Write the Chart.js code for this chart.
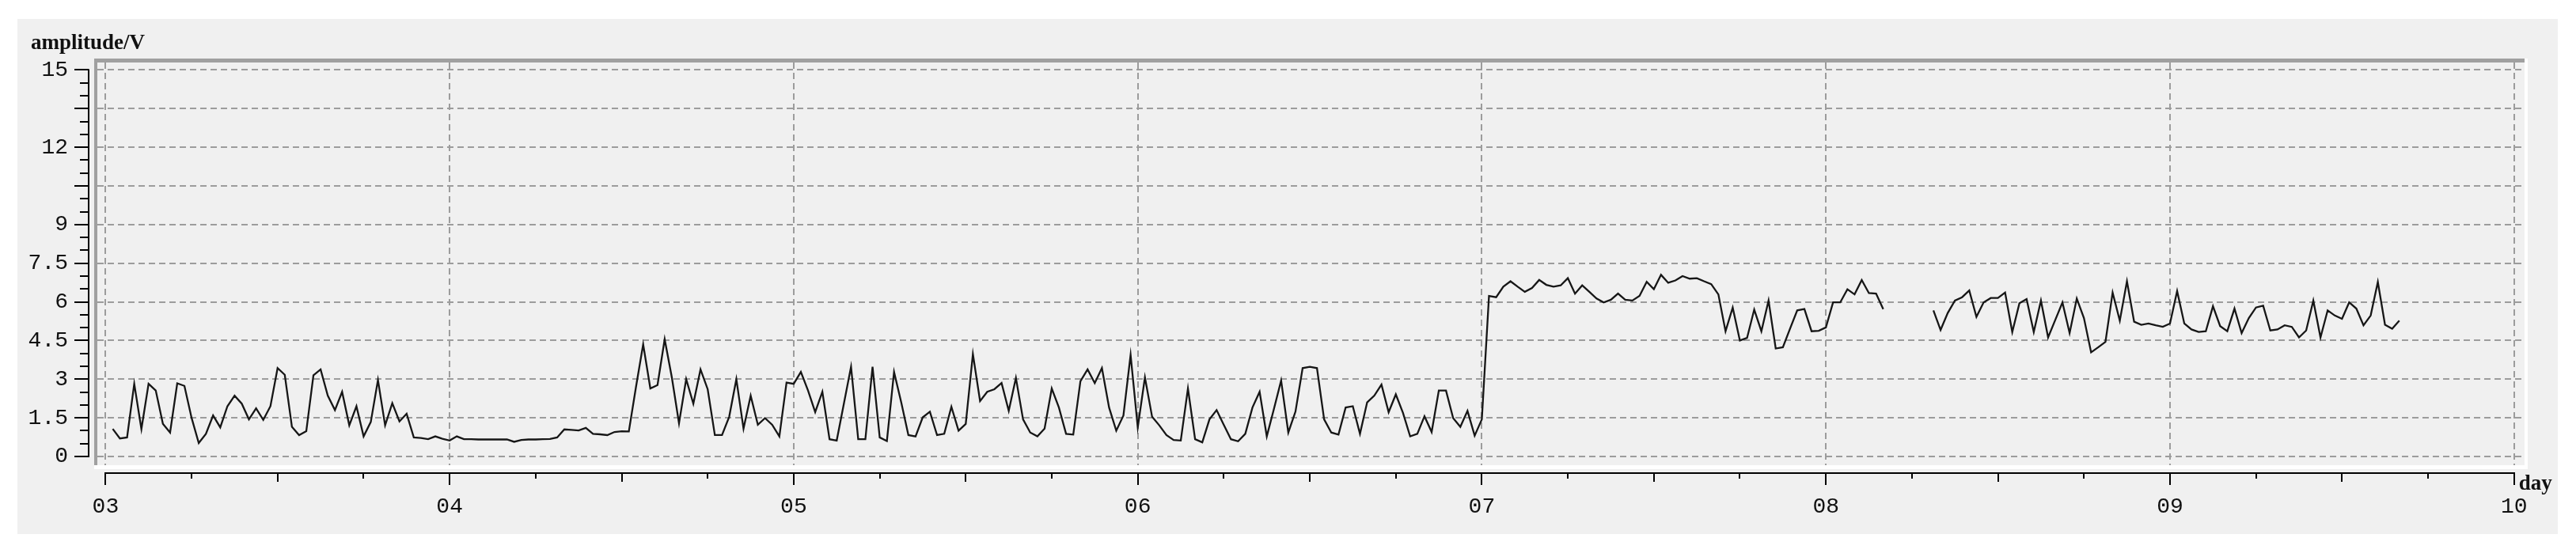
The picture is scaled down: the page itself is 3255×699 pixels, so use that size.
<!DOCTYPE html>
<html>
<head>
<meta charset="utf-8">
<title>amplitude / day</title>
<script src="https://cdn.jsdelivr.net/npm/chart.js@4.4.1/dist/chart.umd.min.js"></script>
<style>
  html, body { margin: 0; padding: 0; background: #fff; }
  #panel { position: absolute; left: 22px; top: 24px; width: 3210px; height: 651px; background: #f0f0f0; }
  #chart { position: absolute; left: 0; top: 0; }
</style>
</head>
<body>
<div id="panel"></div>
<canvas id="chart" width="3255" height="699"></canvas>
<script>
// half-hour samples, first one at 00:30 of day 03
const startDay = 3;
const samplesPerDay = 48;

const amp03 = [1.07, 0.70, 0.74, 2.82, 1.06, 2.82, 2.56, 1.27, 0.93, 2.84,
               2.74, 1.50, 0.52, 0.88, 1.59, 1.13, 1.95, 2.36, 2.05, 1.44,
               1.87, 1.42, 1.95, 3.43, 3.17, 1.15, 0.83, 0.98, 3.15, 3.38,
               2.36, 1.80, 2.51, 1.21, 1.95, 0.78, 1.34, 2.97, 1.21, 2.07,
               1.36, 1.66, 0.74, 0.72, 0.67, 0.78, 0.69, 0.62];
const amp04 = [0.78, 0.67, 0.67, 0.66, 0.66, 0.66, 0.66, 0.66, 0.57, 0.64,
               0.66, 0.66, 0.67, 0.68, 0.74, 1.05, 1.03, 1.01, 1.11, 0.88,
               0.86, 0.83, 0.95, 0.98, 0.97, 2.70, 4.35, 2.64, 2.77, 4.55,
               3.07, 1.29, 3.00, 2.05, 3.38, 2.61, 0.83, 0.83, 1.54, 3.00,
               1.08, 2.36, 1.23, 1.49, 1.23, 0.78, 2.87, 2.82];
const amp05 = [3.28, 2.56, 1.72, 2.51, 0.67, 0.62, 2.05, 3.48, 0.67, 0.67,
               3.48, 0.74, 0.60, 3.28, 2.10, 0.83, 0.78, 1.52, 1.74, 0.83,
               0.88, 1.93, 1.00, 1.26, 3.97, 2.15, 2.51, 2.61, 2.85, 1.77,
               3.05, 1.44, 0.93, 0.78, 1.08, 2.64, 1.90, 0.88, 0.85, 2.92,
               3.38, 2.85, 3.43, 1.90, 1.00, 1.59, 3.94, 1.13];
const amp06 = [3.07, 1.54, 1.21, 0.83, 0.64, 0.62, 2.64, 0.67, 0.55, 1.44,
               1.80, 1.23, 0.67, 0.59, 0.88, 1.90, 2.51, 0.78, 1.85, 2.95,
               0.93, 1.74, 3.43, 3.48, 3.43, 1.44, 0.93, 0.85, 1.90, 1.95,
               0.88, 2.10, 2.36, 2.79, 1.72, 2.41, 1.69, 0.78, 0.88, 1.56,
               0.95, 2.56, 2.56, 1.49, 1.15, 1.77, 0.81, 1.44];
const amp07 = [6.23, 6.18, 6.59, 6.80, 6.59, 6.39, 6.54, 6.85, 6.66, 6.59,
               6.64, 6.92, 6.32, 6.64, 6.39, 6.13, 5.98, 6.08, 6.32, 6.08,
               6.05, 6.23, 6.78, 6.49, 7.05, 6.74, 6.83, 7.00, 6.90, 6.92,
               6.80, 6.69, 6.29, 4.86, 5.78, 4.50, 4.60, 5.70, 4.86, 6.05,
               4.19, 4.24, 4.96, 5.67, 5.72, 4.86, 4.88, 5.01];
const amp08 = [5.98, 5.98, 6.49, 6.29, 6.85, 6.34, 6.32, 5.72, null, null,
               null, null, null, null, 5.67, 4.91, 5.57, 6.05, 6.18, 6.44,
               5.42, 5.98, 6.15, 6.15, 6.36, 4.83, 5.95, 6.11, 4.83, 6.05,
               4.62, 5.30, 5.98, 4.79, 6.13, 5.37, 4.04, 4.24, 4.45, 6.36,
               5.27, 6.80, 5.23, 5.11, 5.16, 5.09, 5.03, 5.16];
const amp09 = [6.42, 5.16, 4.93, 4.83, 4.86, 5.83, 5.06, 4.86, 5.74, 4.79,
               5.37, 5.78, 5.85, 4.89, 4.93, 5.09, 5.03, 4.62, 4.89, 6.05,
               4.62, 5.67, 5.47, 5.34, 5.98, 5.74, 5.09, 5.47, 6.77, 5.11,
               4.96, 5.27];

const xTickValues = [3, 4, 5, 6, 7, 8, 9, 10];
const xTickLabels = ['03', '04', '05', '06', '07', '08', '09', '10'];
const yTickValues = [0, 1.5, 3, 4.5, 6, 7.5, 9, 10.5, 12, 13.5, 15];
const yTickLabels = ['0', '1.5', '3', '4.5', '6', '7.5', '9', '', '12', '', '15'];

const points = [];
[amp03, amp04, amp05, amp06, amp07, amp08, amp09].forEach((vals, d) => {
  vals.forEach((v, k) => {
    points.push({ x: startDay + d + (k + 1) / samplesPerDay, y: v });
  });
});

const tickFont = { family: '"Liberation Mono", monospace', size: 28 };
const titleFont = 'bold 27px "Liberation Serif", serif';

const detachedAxes = {
  id: 'detachedAxes',
  beforeDraw(chart) {
    const { ctx, chartArea: a } = chart;
    ctx.save();
    // sunken frame round the plot
    ctx.fillStyle = '#a0a0a0';
    ctx.fillRect(a.left - 4, a.top - 5, a.right - a.left + 4, 5);
    ctx.fillRect(a.left - 4, a.top - 5, 4, a.bottom - a.top + 5);
    ctx.fillStyle = '#ffffff';
    ctx.fillRect(a.left - 4, a.bottom, a.right - a.left + 8, 5);
    ctx.fillRect(a.right, a.top - 5, 4, a.bottom - a.top + 10);
    ctx.restore();
  },
  afterDraw(chart) {
    const { ctx, chartArea: a, scales: { x, y } } = chart;
    ctx.save();
    ctx.fillStyle = '#000';

    // y axis, ticks every 0.5
    const yTop = y.getPixelForValue(15);
    const yBot = y.getPixelForValue(0);
    const axX = a.left - 12;
    ctx.fillRect(axX, yTop - 1, 2, yBot - yTop + 2);
    for (let v = 0; v <= 15.001; v += 0.5) {
      const py = Math.round(y.getPixelForValue(v));
      const major = Math.abs(v / 1.5 - Math.round(v / 1.5)) < 1e-6;
      const len = major ? 17 : 10;
      ctx.fillRect(axX - len, py - 1, len + 1, 2);
    }

    // x axis, ticks every 6 hours
    const xL = x.getPixelForValue(3);
    const xR = x.getPixelForValue(10);
    const axY = a.bottom + 9;
    ctx.fillRect(xL - 1, axY, xR - xL + 2, 2);
    for (let q = 0; q <= 28; q++) {
      const px = Math.round(x.getPixelForValue(3 + q / 4));
      const len = q % 4 === 0 ? 16 : (q % 2 === 0 ? 12 : 8);
      ctx.fillRect(px - 1, axY, 2, len);
    }

    // axis titles
    ctx.font = titleFont;
    ctx.fillStyle = '#111';
    ctx.textBaseline = 'alphabetic';
    ctx.textAlign = 'left';
    ctx.fillText('amplitude/V', 39, 62);
    ctx.fillText('day', xR + 6, 619);
    ctx.restore();
  }
};

new Chart(document.getElementById('chart'), {
  type: 'line',
  data: {
    datasets: [{
      label: 'amplitude',
      data: points,
      borderColor: '#161616',
      borderWidth: 2.3,
      pointRadius: 0,
      tension: 0,
      spanGaps: false
    }]
  },
  options: {
    responsive: false,
    animation: false,
    devicePixelRatio: 1,
    layout: { padding: { top: 79, right: 65, left: 0, bottom: 0 } },
    plugins: { legend: { display: false }, tooltip: { enabled: false } },
    scales: {
      x: {
        type: 'linear',
        min: 2.9761,
        max: 10.0306,
        afterBuildTicks: s => { s.ticks = xTickValues.map(v => ({ value: v })); },
        afterFit: s => { s.height = 111; },
        grid: { color: '#9c9c9c', lineWidth: 2, drawTicks: false },
        border: { display: false, dash: [8, 5] },
        ticks: {
          font: tickFont,
          color: '#111',
          padding: 36,
          autoSkip: false,
          maxRotation: 0,
          callback: (v, i) => xTickLabels[i]
        }
      },
      y: {
        min: -0.3377,
        max: 15.2886,
        afterBuildTicks: s => { s.ticks = yTickValues.map(v => ({ value: v })); },
        afterFit: s => { s.width = 123; },
        grid: { color: '#9c9c9c', lineWidth: 2, drawTicks: false },
        border: { display: false, dash: [8, 5] },
        ticks: {
          font: tickFont,
          color: '#111',
          padding: 37,
          autoSkip: false,
          callback: (v, i) => yTickLabels[i]
        }
      }
    }
  },
  plugins: [detachedAxes]
});
</script>
</body>
</html>
